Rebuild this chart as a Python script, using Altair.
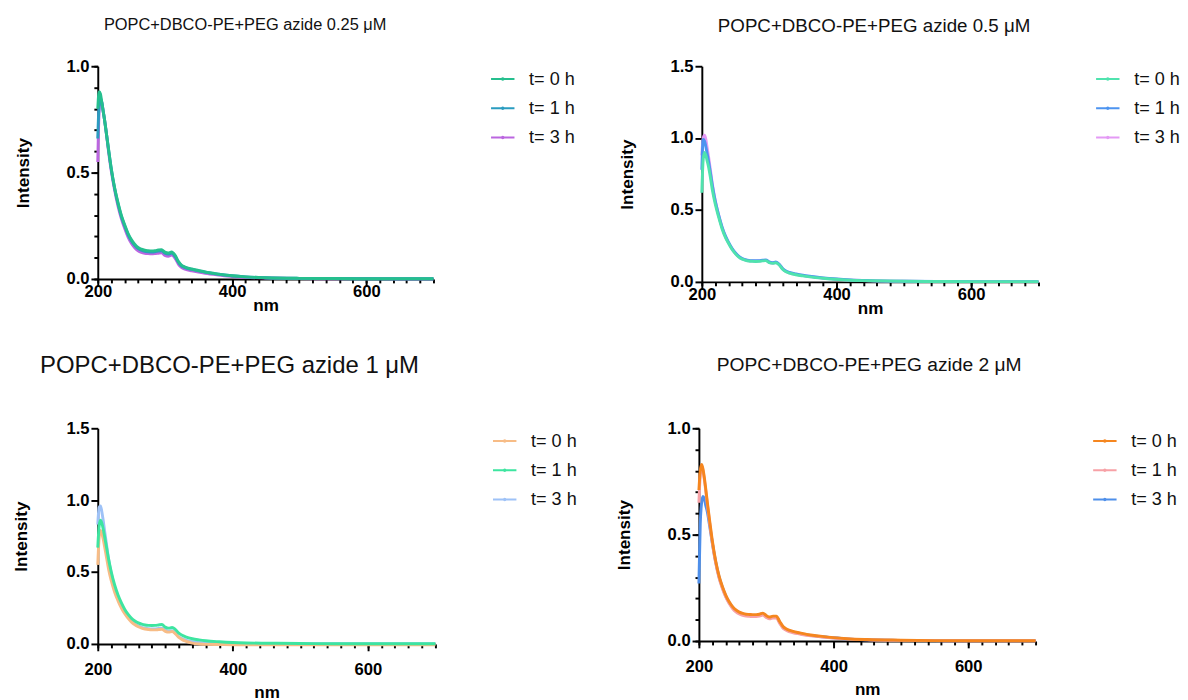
import altair as alt
import pandas as pd

# ---------------- data ----------------
WL = [200, 202, 204, 206, 208, 210, 213, 216, 220, 225, 230, 235, 240, 245, 250, 255,
      260, 265, 270, 275, 280, 285, 290, 295, 300, 305, 310, 315, 320, 325, 330, 340,
      350, 360, 380, 400, 420, 450, 500, 550, 600, 650, 700]

SERIES = ["t= 0 h", "t= 1 h", "t= 3 h"]

TITLES = ["POPC+DBCO-PE+PEG azide 0.25 μM", "POPC+DBCO-PE+PEG azide 0.5 μM",
          "POPC+DBCO-PE+PEG azide 1 μM", "POPC+DBCO-PE+PEG azide  2 μM"]

P1_T0 = [0.80, 0.88, 0.87, 0.83, 0.79, 0.75, 0.68, 0.61, 0.52, 0.43, 0.36, 0.30, 0.255, 0.215, 0.185, 0.163,
         0.148, 0.140, 0.135, 0.133, 0.132, 0.133, 0.136, 0.138, 0.126, 0.122, 0.127, 0.112, 0.083, 0.064, 0.056, 0.047,
         0.040, 0.033, 0.023, 0.015, 0.010, 0.006, 0.003, 0.002, 0.001, 0.001, 0.001]
P1_T1 = [0.66, 0.82, 0.85, 0.83, 0.79, 0.75, 0.68, 0.61, 0.52, 0.428, 0.356, 0.296, 0.250, 0.210, 0.180, 0.158,
         0.143, 0.135, 0.130, 0.128, 0.127, 0.128, 0.131, 0.133, 0.121, 0.117, 0.122, 0.107, 0.079, 0.061, 0.053, 0.045,
         0.038, 0.032, 0.022, 0.015, 0.010, 0.006, 0.003, 0.002, 0.001, 0.001, 0.001]
P1_T3 = [0.55, 0.79, 0.84, 0.83, 0.79, 0.75, 0.68, 0.60, 0.51, 0.42, 0.345, 0.285, 0.238, 0.198, 0.168, 0.147,
         0.133, 0.125, 0.121, 0.119, 0.118, 0.119, 0.121, 0.123, 0.111, 0.107, 0.112, 0.098, 0.070, 0.053, 0.046, 0.038,
         0.032, 0.027, 0.019, 0.012, 0.008, 0.005, 0.002, 0.001, 0.001, 0.000, 0.000]

P2_T0 = [0.62, 0.85, 0.90, 0.88, 0.84, 0.80, 0.72, 0.63, 0.54, 0.45, 0.37, 0.31, 0.265, 0.225, 0.195, 0.172,
         0.158, 0.150, 0.145, 0.143, 0.142, 0.143, 0.146, 0.148, 0.134, 0.129, 0.133, 0.118, 0.088, 0.070, 0.061, 0.050,
         0.042, 0.035, 0.025, 0.018, 0.012, 0.008, 0.004, 0.003, 0.002, 0.002, 0.002]
P2_T1 = [0.78, 0.99, 0.98, 0.94, 0.89, 0.84, 0.75, 0.66, 0.56, 0.465, 0.383, 0.320, 0.273, 0.232, 0.201, 0.178,
         0.163, 0.155, 0.150, 0.148, 0.147, 0.148, 0.151, 0.153, 0.139, 0.134, 0.138, 0.123, 0.093, 0.075, 0.066, 0.055,
         0.046, 0.039, 0.028, 0.020, 0.014, 0.009, 0.005, 0.003, 0.002, 0.002, 0.002]
P2_T3 = [0.88, 1.00, 1.02, 0.99, 0.93, 0.87, 0.77, 0.67, 0.565, 0.465, 0.380, 0.316, 0.268, 0.228, 0.197, 0.174,
         0.160, 0.152, 0.147, 0.145, 0.144, 0.145, 0.148, 0.150, 0.136, 0.131, 0.135, 0.120, 0.090, 0.072, 0.063, 0.052,
         0.044, 0.037, 0.026, 0.019, 0.013, 0.008, 0.004, 0.003, 0.002, 0.002, 0.002]

P3_T0 = [0.55, 0.74, 0.79, 0.77, 0.73, 0.68, 0.60, 0.52, 0.44, 0.36, 0.30, 0.25, 0.210, 0.178, 0.152, 0.133,
         0.120, 0.110, 0.104, 0.100, 0.098, 0.098, 0.100, 0.102, 0.088, 0.082, 0.086, 0.070, 0.045, 0.030, 0.020, 0.006,
         0.000, -0.003, -0.004, -0.005, -0.005, -0.005, -0.005, -0.005, -0.005, -0.005, -0.005]
P3_T1 = [0.67, 0.82, 0.86, 0.84, 0.80, 0.75, 0.67, 0.59, 0.50, 0.41, 0.34, 0.285, 0.240, 0.205, 0.178, 0.160,
         0.147, 0.138, 0.132, 0.129, 0.128, 0.129, 0.132, 0.135, 0.117, 0.110, 0.114, 0.100, 0.075, 0.060, 0.050, 0.036,
         0.028, 0.022, 0.015, 0.010, 0.007, 0.005, 0.003, 0.002, 0.002, 0.002, 0.002]
P3_T3 = [0.83, 0.95, 0.96, 0.92, 0.86, 0.79, 0.69, 0.59, 0.49, 0.39, 0.32, 0.262, 0.220, 0.185, 0.160, 0.140,
         0.126, 0.116, 0.110, 0.106, 0.104, 0.104, 0.107, 0.109, 0.094, 0.088, 0.092, 0.076, 0.050, 0.036, 0.027, 0.015,
         0.010, 0.007, 0.004, 0.003, 0.002, 0.002, 0.001, 0.001, 0.001, 0.001, 0.001]

P4_T0 = [0.71, 0.80, 0.83, 0.81, 0.77, 0.72, 0.64, 0.565, 0.47, 0.375, 0.305, 0.255, 0.215, 0.185, 0.162, 0.146,
         0.136, 0.130, 0.126, 0.125, 0.124, 0.124, 0.126, 0.131, 0.120, 0.113, 0.117, 0.117, 0.092, 0.068, 0.057, 0.045,
         0.038, 0.031, 0.023, 0.016, 0.011, 0.007, 0.004, 0.002, 0.001, 0.001, 0.001]
P4_T1 = [0.65, 0.78, 0.82, 0.80, 0.76, 0.71, 0.63, 0.555, 0.46, 0.366, 0.296, 0.246, 0.206, 0.176, 0.153, 0.137,
         0.127, 0.121, 0.117, 0.116, 0.115, 0.115, 0.117, 0.122, 0.111, 0.104, 0.108, 0.108, 0.083, 0.060, 0.050, 0.039,
         0.033, 0.027, 0.020, 0.014, 0.010, 0.006, 0.003, 0.002, 0.001, 0.001, 0.001]
P4_T3 = [0.27, 0.55, 0.65, 0.68, 0.67, 0.64, 0.60, 0.54, 0.46, 0.37, 0.30, 0.25, 0.210, 0.180, 0.158, 0.142,
         0.132, 0.126, 0.122, 0.121, 0.120, 0.120, 0.122, 0.127, 0.116, 0.109, 0.113, 0.113, 0.088, 0.064, 0.053, 0.042,
         0.035, 0.029, 0.021, 0.015, 0.010, 0.006, 0.003, 0.002, 0.001, 0.001, 0.001]

COLORS = [
    ["#25BF8E", "#2A9CC0", "#BB66E0"],
    ["#4FE3AE", "#4D94F0", "#E49AF5"],
    ["#F7BC86", "#3DE5A0", "#9EC2F7"],
    ["#F5861F", "#F7A1A6", "#4E8FEA"],
]

X_MAJOR = [200, 400, 600]
X_MINOR = [200, 220, 240, 260, 280, 300, 320, 340, 360, 380, 400, 420, 440, 460, 480,
           500, 520, 540, 560, 580, 600, 620, 640, 660, 680, 700]
Y_MAJOR_1 = [0.0, 0.5, 1.0]
Y_MINOR_1 = [0.0, 0.1, 0.2, 0.3, 0.4, 0.5, 0.6, 0.7, 0.8, 0.9, 1.0]
Y_MAJOR_15 = [0.0, 0.5, 1.0, 1.5]

FONT = "Liberation Sans"
LEGEND_SYMBOL = "M-1,0L1,0M-0.07,0a0.07,0.07 0 1,0 0.14,0a0.07,0.07 0 1,0 -0.14,0"


def make_df(vals):
    rows = []
    for s, v in zip(SERIES, vals):
        for w, y in zip(WL, v):
            rows.append({"nm": w, "value": y, "series": s})
    return pd.DataFrame(rows)


def panel(vals, title, colors, ymax, ymajor, yminor, w, h, order,
          title_size, title_offset, title_dx, ytitle_pad, xlab_pad, xtitle_pad):
    df = make_df(vals)
    xs = alt.Scale(domain=[200, 700], nice=False, zero=False)
    ys = alt.Scale(domain=[0, ymax], nice=False)
    xaxis = alt.Axis(values=X_MAJOR, format="d", title="nm", tickSize=7, labelFlush=False,
                     labelPadding=xlab_pad, titlePadding=xtitle_pad, orient="bottom")
    yaxis = alt.Axis(values=ymajor, format=".1f", title="Intensity", tickSize=7, labelFlush=False,
                     labelPadding=2, titlePadding=ytitle_pad, orient="left")
    cscale = alt.Scale(domain=SERIES, range=colors)
    legend = alt.Legend(title=None, orient="right", offset=52, symbolType=LEGEND_SYMBOL,
                        symbolSize=576, symbolStrokeWidth=2, labelFontSize=18.5,
                        labelFont=FONT, labelOffset=14, rowPadding=7, labelColor="#111")
    lines = []
    for s in order:
        lines.append(
            alt.Chart(df).transform_filter(alt.datum.series == s)
            .mark_line(strokeWidth=3, interpolate="monotone")
            .encode(
                x=alt.X("nm:Q", scale=xs, axis=xaxis),
                y=alt.Y("value:Q", scale=ys, axis=yaxis),
                color=alt.Color("series:N", scale=cscale, legend=legend),
            )
        )
    if yminor is not None:
        ymin_axis = alt.Axis(values=yminor, labels=False, tickSize=4, domain=False,
                             title=None, orient="left")
    else:
        ymin_axis = None
    minor = alt.Chart(df).mark_point(opacity=0).encode(
        x=alt.X("nm:Q", scale=xs, axis=alt.Axis(values=X_MINOR, labels=False, tickSize=4,
                                                domain=False, title=None, orient="bottom")),
        y=alt.Y("value:Q", scale=ys, axis=ymin_axis),
    )
    ch = alt.layer(alt.layer(*lines), minor).resolve_axis(x="independent", y="independent")
    return ch.properties(
        width=w, height=h,
        title=alt.TitleParams(title, anchor="middle", offset=title_offset, dx=title_dx,
                              font=FONT, fontSize=title_size, fontWeight="normal", color="#111"),
    )


p1 = panel([P1_T0, P1_T1, P1_T3], TITLES[0], COLORS[0], 1.0, Y_MAJOR_1, Y_MINOR_1,
           344, 218, ["t= 3 h", "t= 1 h", "t= 0 h"], 16.8, 24, -21, 34, -2, -3)
p2 = panel([P2_T0, P2_T1, P2_T3], TITLES[1], COLORS[1], 1.5, Y_MAJOR_15, None,
           345, 221, ["t= 3 h", "t= 1 h", "t= 0 h"], 19.2, 22, 4, 34, -2, -3)
p3 = panel([P3_T0, P3_T1, P3_T3], TITLES[2], COLORS[2], 1.5, Y_MAJOR_15, None,
           346, 221, ["t= 3 h", "t= 0 h", "t= 1 h"], 24.5, 42, -38, 36, 11, 7)
p4 = panel([P4_T0, P4_T1, P4_T3], TITLES[3], COLORS[3], 1.0, Y_MAJOR_1, Y_MINOR_1,
           345, 218, ["t= 3 h", "t= 1 h", "t= 0 h"], 19.7, 46, 2, 34, 11, 7)

row1 = alt.hconcat(p1, p2, spacing=45).resolve_scale(color="independent", x="independent", y="independent")
row2 = alt.hconcat(p3, p4, spacing=40).resolve_scale(color="independent", x="independent", y="independent")

chart = alt.vconcat(row1, row2, spacing=37).resolve_scale(
    color="independent", x="independent", y="independent"
).configure_axis(
    domainColor="#000", domainWidth=2, tickColor="#000", tickWidth=2, grid=False,
    labelFont=FONT, labelFontSize=17, labelFontWeight="bold", labelColor="#000",
    titleFont=FONT, titleFontSize=17.5, titleFontWeight="bold", titleColor="#000",
).configure_view(stroke=None).properties(padding={"left": 5, "top": 0, "right": 0, "bottom": 0})

chart.save("out.html", embed_options={"renderer": "svg", "actions": False})
